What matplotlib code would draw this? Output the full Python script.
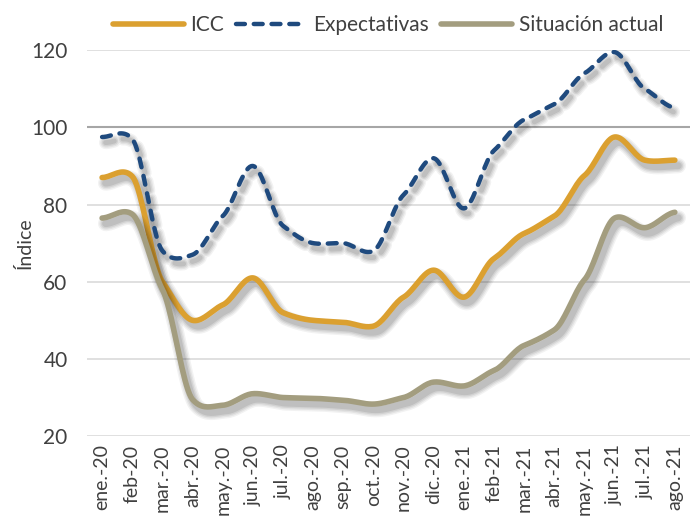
import numpy as np
import matplotlib
matplotlib.use('Agg')
import matplotlib.pyplot as plt
import matplotlib.patheffects as pe
from matplotlib.lines import Line2D

plt.rcParams['font.family'] = ['Lato', 'DejaVu Sans']

meses = ['ene.-20', 'feb-20', 'mar.-20', 'abr.-20', 'may.-20', 'jun.-20', 'jul.-20',
         'ago.-20', 'sep.-20', 'oct.-20', 'nov.-20', 'dic.-20', 'ene.-21', 'feb-21',
         'mar.-21', 'abr.-21', 'may.-21', 'jun.-21', 'jul.-21', 'ago.-21']
icc = [87, 87.3, 60, 50, 54, 61, 52, 50, 49.5, 48.5, 56, 63, 56, 66, 72.5, 77, 87.5, 97.5, 91.5, 91.5]
expectativas = [97.5, 97, 68, 67, 77, 90, 74.5, 70, 70, 68, 82.5, 92, 79, 94, 102, 106, 114, 119.5, 110, 105]
situacion = [76.5, 77.5, 58, 29.5, 28, 31, 30, 29.8, 29.3, 28.3, 30, 34, 33, 37, 43.5, 47.5, 60.5, 76.5, 74, 78]

c_icc = '#DBA030'
c_exp = '#1F4A7E'
c_sit = '#A39D7F'


def suave(y, n=20):
    # curva tipo Excel (Catmull-Rom) entre los puntos
    y = np.asarray(y, float)
    p = np.concatenate([[y[0]], y, [y[-1]]])
    xs, ys = [], []
    t = np.linspace(0, 1, n, endpoint=False)
    for i in range(1, len(p) - 2):
        p0, p1, p2, p3 = p[i - 1], p[i], p[i + 1], p[i + 2]
        m1 = (p2 - p0) / 2 * 0.6
        m2 = (p3 - p1) / 2 * 0.6
        h00 = 2 * t**3 - 3 * t**2 + 1
        h10 = t**3 - 2 * t**2 + t
        h01 = -2 * t**3 + 3 * t**2
        h11 = t**3 - t**2
        ys.append(h00 * p1 + h10 * m1 + h01 * p2 + h11 * m2)
        xs.append(i - 1 + t)
    xs.append([len(y) - 1])
    ys.append([y[-1]])
    return np.concatenate(xs), np.concatenate(ys)


def sombra(lw):
    # sombra difusa desplazada abajo a la derecha
    efs = []
    for extra, a in [(7, 0.05), (5, 0.06), (3, 0.07), (1, 0.09)]:
        efs.append(pe.SimpleLineShadow(offset=(2.5, -4), shadow_color='black', alpha=a,
                                       linewidth=lw + extra))
    efs.append(pe.Normal())
    return efs


fig = plt.figure(figsize=(6.99, 5.28), dpi=100)
ax = fig.add_axes([0.1245, 0.174, 0.8625, 0.731])

x = np.arange(len(meses))

xs, ys = suave(icc)
ax.plot(xs, ys, color=c_icc, lw=4, solid_capstyle='round', path_effects=sombra(4), zorder=3)
xs, ys = suave(expectativas)
ax.plot(xs, ys, color=c_exp, lw=3.2, ls=(0, (2.0, 2.0)), dash_capstyle='round',
        path_effects=sombra(2.5), zorder=3)
xs, ys = suave(situacion)
ax.plot(xs, ys, color=c_sit, lw=4, solid_capstyle='round', path_effects=sombra(4), zorder=3)

ax.set_xlim(-0.5, len(meses) - 0.5)
ax.set_ylim(20, 120)
ax.set_yticks([20, 40, 60, 80, 100, 120])
for v in [20, 40, 60, 80, 120]:
    ax.axhline(v, color='#DADADA', lw=1.2, zorder=1)
ax.axhline(100, color='#A6A6A6', lw=1.5, zorder=1)

ax.set_xticks(x)
ax.set_xticklabels(meses, rotation=90, fontsize=14, color='#404040')
ax.tick_params(axis='y', labelsize=15, labelcolor='#404040', length=0, pad=14)
ax.tick_params(axis='x', length=0, pad=6)
for s in ax.spines.values():
    s.set_visible(False)
ax.set_ylabel('Índice', fontsize=14, color='#404040', labelpad=-2)

handles = [Line2D([], [], color=c_icc, lw=4, solid_capstyle='round'),
           Line2D([], [], color=c_exp, lw=3.2, ls=(0, (2.0, 2.0)), dash_capstyle='round'),
           Line2D([], [], color=c_sit, lw=4, solid_capstyle='round')]
fig.legend(handles, ['ICC', 'Expectativas', 'Situación actual'], loc='center',
           bbox_to_anchor=(0.555, 0.953), ncol=3, frameon=False, fontsize=15,
           handlelength=3.4, columnspacing=0.6, handletextpad=0.3, labelcolor='#404040')

fig.savefig('out.png', dpi=100)
